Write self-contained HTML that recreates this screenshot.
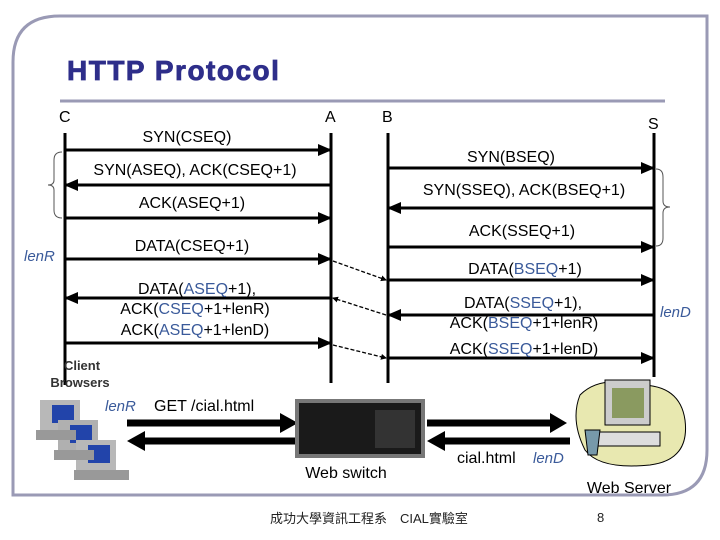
<!DOCTYPE html>
<html><head><meta charset="utf-8"><style>
html,body{margin:0;padding:0;background:#fff}
svg{display:block}
text{font-family:"Liberation Sans","Noto Sans CJK TC",sans-serif}
</style></head><body>
<svg width="720" height="540" viewBox="0 0 720 540" xmlns="http://www.w3.org/2000/svg">
<defs>
<marker id="ar" markerWidth="14" markerHeight="12" refX="13" refY="6" orient="auto" markerUnits="userSpaceOnUse"><path d="M0,0 L14,6 L0,12 z" fill="#000"/></marker>
<marker id="sa" markerWidth="6" markerHeight="6" refX="5" refY="3" orient="auto" markerUnits="userSpaceOnUse"><path d="M0,0 L6,3 L0,6 z" fill="#000"/></marker>
</defs>
<path d="M13,495 L13,62 Q13,16 60,16 L707,16 L707,450 Q707,495 662,495 Z" fill="none" stroke="#9a9ab5" stroke-width="3"/>
<text x="67" y="80" font-size="28" font-weight="bold" fill="#2e2e8a" letter-spacing="1.5" stroke="#2e2e8a" stroke-width="0.8">HTTP Protocol</text>
<line x1="60" y1="101" x2="665" y2="101" stroke="#9a9ab5" stroke-width="3"/>
<g font-size="16" fill="#000">
<text x="59" y="122">C</text><text x="325" y="122">A</text><text x="382" y="122">B</text><text x="648" y="129">S</text>
</g>
<g stroke="#000" stroke-width="3">
<line x1="65" y1="133" x2="65" y2="385"/><line x1="331" y1="133" x2="331" y2="383"/>
<line x1="388" y1="133" x2="388" y2="383"/><line x1="654" y1="133" x2="654" y2="377"/>
<line x1="65" y1="150" x2="331" y2="150" marker-end="url(#ar)"/>
<line x1="331" y1="185" x2="65" y2="185" marker-end="url(#ar)"/>
<line x1="65" y1="218" x2="331" y2="218" marker-end="url(#ar)"/>
<line x1="65" y1="259" x2="331" y2="259" marker-end="url(#ar)"/>
<line x1="331" y1="298" x2="65" y2="298" marker-end="url(#ar)"/>
<line x1="65" y1="343" x2="331" y2="343" marker-end="url(#ar)"/>
<line x1="388" y1="168" x2="654" y2="168" marker-end="url(#ar)"/>
<line x1="654" y1="208" x2="388" y2="208" marker-end="url(#ar)"/>
<line x1="388" y1="247" x2="654" y2="247" marker-end="url(#ar)"/>
<line x1="388" y1="280" x2="654" y2="280" marker-end="url(#ar)"/>
<line x1="654" y1="315" x2="388" y2="315" marker-end="url(#ar)"/>
<line x1="388" y1="358" x2="654" y2="358" marker-end="url(#ar)"/>
</g>
<g stroke="#000" stroke-width="1.3" stroke-dasharray="4,2">
<line x1="333" y1="261" x2="386" y2="280" marker-end="url(#sa)"/>
<line x1="386" y1="315" x2="333" y2="298" marker-end="url(#sa)"/>
<line x1="333" y1="345" x2="386" y2="358" marker-end="url(#sa)"/>
</g>
<path d="M62,152 Q54,152 54,160 L54,180 Q54,185 48,185 Q54,185 54,190 L54,210 Q54,218 62,218" fill="none" stroke="#555" stroke-width="1"/>
<path d="M656,169 Q663,169 663,177 L663,201 Q663,207 670,207 Q663,207 663,213 L663,238 Q663,246 656,246" fill="none" stroke="#555" stroke-width="1"/>
<g font-size="16" fill="#000" text-anchor="middle">
<text x="187" y="142">SYN(CSEQ)</text>
<text x="195" y="175">SYN(ASEQ), ACK(CSEQ+1)</text>
<text x="192" y="208">ACK(ASEQ+1)</text>
<text x="192" y="251">DATA(CSEQ+1)</text>
<text x="197" y="294">DATA(<tspan fill="#3a5a9a">ASEQ</tspan>+1),</text>
<text x="195" y="314">ACK(<tspan fill="#3a5a9a">CSEQ</tspan>+1+lenR)</text>
<text x="195" y="335">ACK(<tspan fill="#3a5a9a">ASEQ</tspan>+1+lenD)</text>
<text x="511" y="162">SYN(BSEQ)</text>
<text x="524" y="195">SYN(SSEQ), ACK(BSEQ+1)</text>
<text x="522" y="236">ACK(SSEQ+1)</text>
<text x="525" y="274">DATA(<tspan fill="#3a5a9a">BSEQ</tspan>+1)</text>
<text x="523" y="308">DATA(<tspan fill="#3a5a9a">SSEQ</tspan>+1),</text>
<text x="524" y="328">ACK(<tspan fill="#3a5a9a">BSEQ</tspan>+1+lenR)</text>
<text x="524" y="354">ACK(<tspan fill="#3a5a9a">SSEQ</tspan>+1+lenD)</text>
</g>
<g font-size="15" font-style="italic" fill="#3a5a9a">
<text x="24" y="261">lenR</text><text x="660" y="317">lenD</text>
</g>
<g font-size="13" font-weight="bold" fill="#333" text-anchor="middle">
<text x="82" y="370">Client</text><text x="80" y="387">Browsers</text>
</g>
<g>
<rect x="40" y="400" width="40" height="30" fill="#b8b8b8"/><rect x="52" y="405" width="22" height="18" fill="#2244aa"/>
<rect x="58" y="420" width="40" height="30" fill="#b0b0b0"/><rect x="70" y="425" width="22" height="18" fill="#2244aa"/>
<rect x="76" y="440" width="40" height="30" fill="#b8b8b8"/><rect x="88" y="445" width="22" height="18" fill="#2244aa"/>
<rect x="36" y="430" width="40" height="10" fill="#999"/><rect x="54" y="450" width="40" height="10" fill="#999"/><rect x="74" y="470" width="55" height="10" fill="#999"/>
</g>
<text x="105" y="411" font-size="15" font-style="italic" fill="#3a5a9a">lenR</text>
<text x="154" y="411" font-size="16" fill="#000">GET /cial.html</text>
<g stroke="#000" stroke-width="7">
<line x1="127" y1="423" x2="285" y2="423"/><line x1="140" y1="441" x2="296" y2="441"/>
<line x1="427" y1="423" x2="553" y2="423"/><line x1="440" y1="441" x2="570" y2="441"/>
</g>
<path d="M280,413 L298,423 L280,433 z M145,431 L127,441 L145,451 z M550,413 L567,423 L550,433 z M445,431 L427,441 L445,451 z" fill="#000"/>
<rect x="295" y="399" width="130" height="59" fill="#777"/>
<rect x="299" y="403" width="122" height="51" fill="#1a1a1a"/>
<rect x="375" y="410" width="40" height="38" fill="#333"/>
<text x="346" y="478" font-size="16" text-anchor="middle">Web switch</text>
<text x="457" y="463" font-size="16">cial.html</text>
<text x="533" y="463" font-size="15" font-style="italic" fill="#3a5a9a">lenD</text>
<path d="M580,395 Q600,375 640,385 Q680,385 685,420 Q690,460 650,465 Q600,470 585,450 Q570,420 580,395 z" fill="#e8e8b0" stroke="#000" stroke-width="1"/>
<rect x="605" y="380" width="45" height="45" fill="#ccc" stroke="#000"/>
<rect x="612" y="388" width="32" height="30" fill="#8a9a60"/>
<rect x="595" y="432" width="65" height="14" fill="#ddd" stroke="#000"/>
<path d="M585,430 L600,430 L597,455 L588,455 z" fill="#79a" stroke="#000"/>
<text x="629" y="493" font-size="16" text-anchor="middle">Web Server</text>
<text x="270" y="523" font-size="13" fill="#222">成功大學資訊工程系　CIAL實驗室</text>
<text x="597" y="522" font-size="13" fill="#222">8</text>
</svg>
</body></html>
